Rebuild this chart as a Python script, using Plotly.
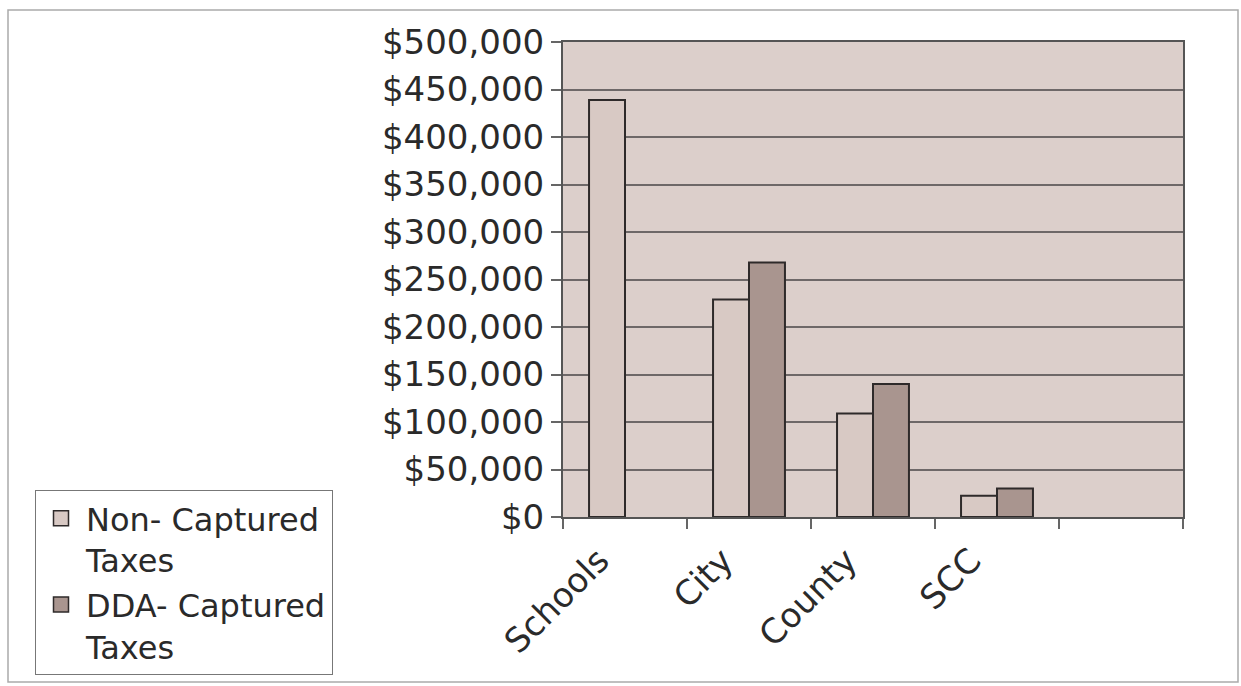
import plotly.graph_objects as go

categories = ["Schools", "City", "County", "SCC", " "]
non_captured = [439000, 229000, 109000, 22500, None]
dda_captured = [None, 268000, 140000, 30000, None]
series_names = ["Non- Captured<br>Taxes", "DDA- Captured<br>Taxes"]
series_colors = ["#d8c9c4", "#a9958f"]
y_ticks = [0, 50000, 100000, 150000, 200000, 250000, 300000, 350000, 400000, 450000, 500000]
y_tick_labels = ["$0", "$50,000", "$100,000", "$150,000", "$200,000", "$250,000",
                 "$300,000", "$350,000", "$400,000", "$450,000", "$500,000"]

FONT = "DejaVu Sans"
W, H = 1241, 686
L, R, T, B = 563, 58, 42, 169
pw, ph = W - L - R, H - T - B
EDGE = "#2e2a2a"

fig = go.Figure()
for vals, name, col in zip([non_captured, dda_captured], series_names, series_colors):
    fig.add_trace(go.Bar(
        x=categories, y=vals, name=name, showlegend=False,
        marker=dict(color=col, line=dict(color=EDGE, width=2)),
    ))
for name, col in zip(series_names, series_colors):
    fig.add_trace(go.Scatter(
        x=[None], y=[None], name=name, mode="markers",
        marker=dict(symbol="square", size=15, color=col, line=dict(color=EDGE, width=1.5)),
    ))

def px_x(p):
    return (p - L) / pw

def px_y(p):
    return (H - B - p) / ph

fig.update_layout(
    width=W, height=H,
    margin=dict(l=L, r=R, t=T, b=B, autoexpand=False),
    paper_bgcolor="white",
    plot_bgcolor="#dccfcb",
    barmode="group",
    bargap=0.42,
    bargroupgap=0,
    font=dict(family=FONT, size=34, color="#2a2a2a"),
    legend=dict(
        xref="container", yref="container",
        x=35 / W, y=1 - 490 / H, xanchor="left", yanchor="top",
        bgcolor="white", bordercolor="#777", borderwidth=1,
        font=dict(family=FONT, size=32, color="#2a2a2a"),
        itemwidth=40, tracegroupgap=0, valign="top",
    ),
    xaxis=dict(
        type="category",
        categoryorder="array", categoryarray=categories,
        range=[-0.5, 4.5],
        tickson="boundaries",
        ticks="outside", ticklen=10, tickcolor="#666", tickwidth=1.5,
        tickangle=-45,
        ticklabelshift=-26, ticklabelstandoff=8,
        showline=True, linecolor="#555", linewidth=2, mirror=True,
        showgrid=False,
        tickfont=dict(family=FONT, size=34, color="#2a2a2a"),
    ),
    yaxis=dict(
        range=[0, 500000],
        tickvals=y_ticks, ticktext=y_tick_labels,
        ticks="outside", ticklen=10, tickcolor="#666", tickwidth=1.5,
        showline=True, linecolor="#555", linewidth=2, mirror=True,
        showgrid=True, gridcolor="#6e6868", gridwidth=1.5,
        zeroline=False,
        tickfont=dict(family=FONT, size=34, color="#2a2a2a"),
        ticklabelstandoff=0,
    ),
    shapes=[dict(
        type="rect", xref="paper", yref="paper",
        x0=px_x(8), x1=px_x(1238), y0=px_y(682), y1=px_y(10),
        line=dict(color="#aaaaaa", width=1.5), layer="below",
    )],
)

fig.write_html("out.html")
